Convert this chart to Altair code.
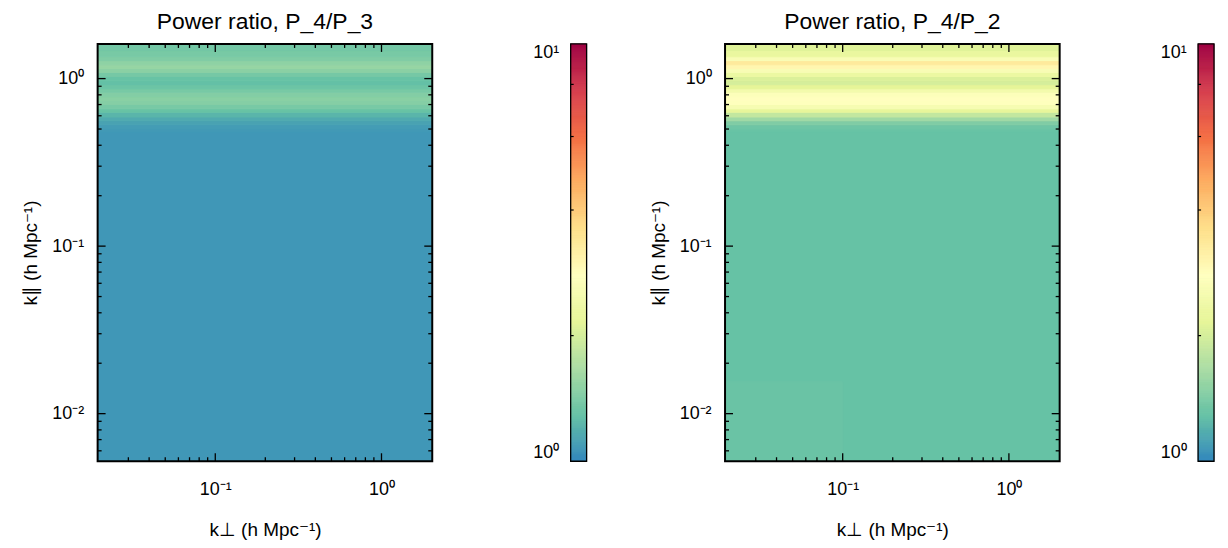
import altair as alt
import pandas as pd

# ---------------- data ----------------
# k_perp span and k_par row edges (h/Mpc), bottom -> top
kperp_range = [0.0196, 2.02]
kpar_edges = [0.0052, 0.48, 0.50, 0.53, 0.56, 0.59, 0.63, 0.66, 0.70,
              0.74, 0.78, 0.83, 0.87, 0.92, 0.97, 1.03, 1.09, 1.15, 1.21,
              1.28, 1.35, 1.47, 1.61]

# power ratio per k_par row (bottom -> top)
ratio_p4_p3 = [1.07, 1.08, 1.09, 1.12, 1.16, 1.22, 1.30, 1.38, 1.45,
               1.47, 1.44, 1.38, 1.32, 1.28, 1.30, 1.37, 1.48, 1.55, 1.50,
               1.42, 1.38, 1.36]
ratio_p4_p2 = [1.29, 1.30, 1.33, 1.42, 1.60, 1.85, 2.20, 2.55, 2.75,
               2.80, 2.70, 2.45, 2.15, 2.00, 2.05, 2.30, 2.60, 3.00, 3.30,
               2.60, 2.25, 2.10]
# slightly different low-k corner cell seen in the P_4/P_2 panel
corner_kperp = [0.0196, 0.1]
corner_kpar = [0.0052, 0.0155]
corner_p4_p2 = 1.31

titles = ["Power ratio, P_4/P_3", "Power ratio, P_4/P_2"]

x_major = [0.1, 1.0]
x_major_labels = ["10\u207b\u00b9", "10\u2070"]
x_minor = [0.03, 0.04, 0.05, 0.06, 0.07, 0.08, 0.09,
           0.2, 0.3, 0.4, 0.5, 0.6, 0.7, 0.8, 0.9]
y_major = [0.01, 0.1, 1.0]
y_major_labels = ["10\u207b\u00b2", "10\u207b\u00b9", "10\u2070"]
y_minor = [0.006, 0.007, 0.008, 0.009,
           0.02, 0.03, 0.04, 0.05, 0.06, 0.07, 0.08, 0.09,
           0.2, 0.3, 0.4, 0.5, 0.6, 0.7, 0.8, 0.9]
cb_major = [1, 10]
cb_major_labels = ["10\u2070", "10\u00b9"]
cb_minor = [2, 4, 6, 8]

spectral = ["#3288bd", "#66c2a5", "#abdda4", "#e6f598", "#ffffbf",
            "#fee08b", "#fdae61", "#f46d43", "#d53e4f", "#9e0142"]

W, H, CBW = 336, 419, 16
FONT = "Liberation Sans"


def label_expr(vals, labels):
    parts = []
    for v, l in zip(vals, labels):
        parts.append(f"abs(log(datum.value) - log({v})) < 0.01 ? '{l}'")
    return " : ".join(parts) + " : ''"


def rows_df(rows):
    return pd.DataFrame(dict(
        x0=[kperp_range[0]] * len(rows), x1=[kperp_range[1]] * len(rows),
        y0=kpar_edges[:-1], y1=kpar_edges[1:], ratio=rows))


cscale = alt.Scale(type="log", domain=[1, 10], range=spectral, interpolate="rgb")
xs = alt.Scale(type="log", domain=kperp_range, nice=False)
ys = alt.Scale(type="log", domain=[kpar_edges[0], kpar_edges[-1]], nice=False)

xaxis = alt.Axis(
    values=x_major, labelExpr=label_expr(x_major, x_major_labels),
    title="k\u22a5 (h Mpc\u207b\u00b9)", grid=False, ticks=False, tickSize=0,
    domain=False, labelFontSize=18, titleFontSize=19,
    titleFontWeight="normal", labelPadding=19, titlePadding=23,
    labelColor="black", titleColor="black", labelFont=FONT, titleFont=FONT)
yaxis = alt.Axis(
    values=y_major, labelExpr=label_expr(y_major, y_major_labels),
    title="k\u2225 (h Mpc\u207b\u00b9)", grid=False, ticks=False, tickSize=0,
    domain=False, labelFontSize=18, titleFontSize=19,
    titleFontWeight="normal", labelPadding=14, titlePadding=11,
    labelColor="black", titleColor="black", labelFont=FONT, titleFont=FONT)


def frame(w, h, sw):
    return alt.Chart(pd.DataFrame({"f": [0]})).mark_rect(
        fill="transparent", stroke="black", strokeWidth=sw).encode(
        x=alt.value(0), x2=alt.value(w), y=alt.value(0), y2=alt.value(h))


def xrule(vals, length, top):
    return alt.Chart(pd.DataFrame({"v": vals})).mark_rule(
        color="black", strokeWidth=1.3).encode(
        x=alt.X("v:Q", scale=xs, axis=xaxis),
        y=alt.value(0 if top else H),
        y2=alt.value(length if top else H - length))


def yrule(vals, length, right):
    return alt.Chart(pd.DataFrame({"v": vals})).mark_rule(
        color="black", strokeWidth=1.3).encode(
        y=alt.Y("v:Q", scale=ys, axis=yaxis),
        x=alt.value(W if right else 0),
        x2=alt.value(W - length if right else length))


def cells(df):
    return alt.Chart(df).mark_rect(clip=True, strokeWidth=1).encode(
        x=alt.X("x0:Q", scale=xs, axis=xaxis),
        x2="x1:Q",
        y=alt.Y("y0:Q", scale=ys, axis=yaxis),
        y2="y1:Q",
        color=alt.Color("ratio:Q", scale=cscale, legend=None),
        stroke=alt.Stroke("ratio:Q", scale=cscale, legend=None),
    )


def panel(rows, title, corner=None):
    layers = [cells(rows_df(rows))]
    if corner is not None:
        cdf = pd.DataFrame(dict(x0=[corner_kperp[0]], x1=[corner_kperp[1]],
                                y0=[corner_kpar[0]], y1=[corner_kpar[1]],
                                ratio=[corner]))
        layers.append(cells(cdf))
    layers += [xrule(x_major, 8, False), xrule(x_minor, 4, False),
               xrule(x_major, 8, True), xrule(x_minor, 4, True),
               yrule(y_major, 8, False), yrule(y_minor, 4, False),
               yrule(y_major, 8, True), yrule(y_minor, 4, True),
               frame(W, H, 2)]
    return alt.layer(*layers).properties(
        width=W, height=H,
        title=alt.TitleParams(title, fontSize=23, fontWeight="normal", font=FONT,
                              color="black", frame="group", anchor="middle", offset=9))


cbs = alt.Scale(type="log", domain=[1, 10], nice=False)
cbaxis = alt.Axis(
    values=cb_major, labelExpr=label_expr(cb_major, cb_major_labels),
    title=None, grid=False, ticks=False, tickSize=0, domain=False,
    labelFlush=True, labelFontSize=18, labelPadding=12,
    labelColor="black", labelFont=FONT)


def colorbar():
    step = 0.0025
    bar = alt.Chart(alt.sequence(0, 1, step, as_="t")).transform_calculate(
        lo="pow(10, datum.t)", hi=f"pow(10, datum.t + {step})"
    ).mark_rect(strokeWidth=0.8).encode(
        x=alt.value(0), x2=alt.value(CBW),
        y=alt.Y("lo:Q", scale=cbs, axis=cbaxis),
        y2="hi:Q",
        color=alt.Color("lo:Q", scale=cscale, legend=None),
        stroke=alt.Stroke("lo:Q", scale=cscale, legend=None),
    )
    ticks = alt.Chart(pd.DataFrame({"v": cb_minor})).mark_rule(
        color="black", strokeWidth=1.2).encode(
        y=alt.Y("v:Q", scale=cbs, axis=cbaxis),
        x=alt.value(0), x2=alt.value(3))
    return alt.layer(bar, ticks, frame(CBW, H, 1.3)).properties(width=CBW, height=H)


p1 = panel(ratio_p4_p3, titles[0])
p2 = panel(ratio_p4_p2, titles[1], corner_p4_p2)

chart = alt.hconcat(p1, colorbar(), p2, colorbar(), spacing=139, bounds="flush").properties(
    padding={"left": 13, "top": 2, "right": 5, "bottom": 0}
).configure(font=FONT).configure_view(stroke=None)

chart.save("out.html", embed_options={"renderer": "svg", "actions": False})
